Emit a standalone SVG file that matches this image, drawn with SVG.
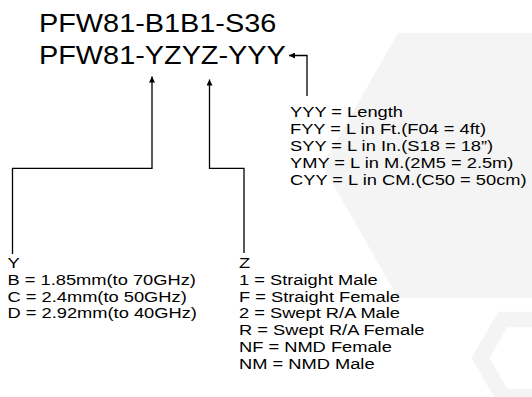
<svg xmlns="http://www.w3.org/2000/svg" width="532" height="397" viewBox="0 0 532 397">
<style>
.t{font-family:"Liberation Sans",Arial,Helvetica,sans-serif;fill:#000}
.title{font-size:26px}
.s{font-size:15.5px}
.c{fill:none;stroke:#000;stroke-width:1.3}
.bg{fill:#f4f4f4}
</style>
<defs>
<marker id="ah" viewBox="0 0 10 10" refX="10" refY="5" markerWidth="8" markerHeight="6" markerUnits="userSpaceOnUse" orient="auto">
<path d="M0,0 L10,5 L0,10 z" fill="#000"/>
</marker>
</defs>
<g id="background">
<polygon class="bg" points="627.5,165.5 551,298 398,298 322.5,165.5 398,33 551,33"/>
<path class="bg" fill-rule="evenodd" d="M578.5,358 L551.75,404.3 L498.25,404.3 L471.5,358 L498.25,311.7 L551.75,311.7 Z M560.5,358 L542.75,388.7 L507.25,388.7 L489.5,358 L507.25,327.3 L542.75,327.3 Z"/>
</g>
<g id="connectors">
<path class="c" d="M307,96 V55.5 H289" marker-end="url(#ah)"/>
<path class="c" d="M12.5,254 V168.3 H152 V76.5" marker-end="url(#ah)"/>
<path class="c" d="M244,253 V168.3 H209.5 V79.5" marker-end="url(#ah)"/>
</g>
<g id="title" transform="translate(39,0) scale(1.11,1)">
<text class="t title" x="0" y="31.7">PFW81-B1B1-S36</text>
<text class="t title" x="0" y="64.3">PFW81-YZYZ-YYY</text>
</g>
<g id="length" transform="translate(290,0) scale(1.18,1)">
<text class="t s" x="0" y="117">YYY = Length</text>
<text class="t s" x="0" y="134">FYY = L in Ft.(F04 = 4ft)</text>
<text class="t s" x="0" y="151">SYY = L in In.(S18 = 18”)</text>
<text class="t s" x="0" y="168">YMY = L in M.(2M5 = 2.5m)</text>
<text class="t s" x="0" y="185">CYY = L in CM.(C50 = 50cm)</text>
</g>
<g id="y-list" transform="translate(7.5,0) scale(1.18,1)">
<text class="t s" x="0" y="268">Y</text>
<text class="t s" x="0" y="284.8">B = 1.85mm(to 70GHz)</text>
<text class="t s" x="0" y="301.6">C = 2.4mm(to 50GHz)</text>
<text class="t s" x="0" y="318.4">D = 2.92mm(to 40GHz)</text>
</g>
<g id="z-list" transform="translate(239,0) scale(1.18,1)">
<text class="t s" x="0" y="268">Z</text>
<text class="t s" x="0" y="284.8">1 = Straight Male</text>
<text class="t s" x="0" y="301.6">F = Straight Female</text>
<text class="t s" x="0" y="318.4">2 = Swept R/A Male</text>
<text class="t s" x="0" y="335.2">R = Swept R/A Female</text>
<text class="t s" x="0" y="352">NF = NMD Female</text>
<text class="t s" x="0" y="368.8">NM = NMD Male</text>
</g>
</svg>
